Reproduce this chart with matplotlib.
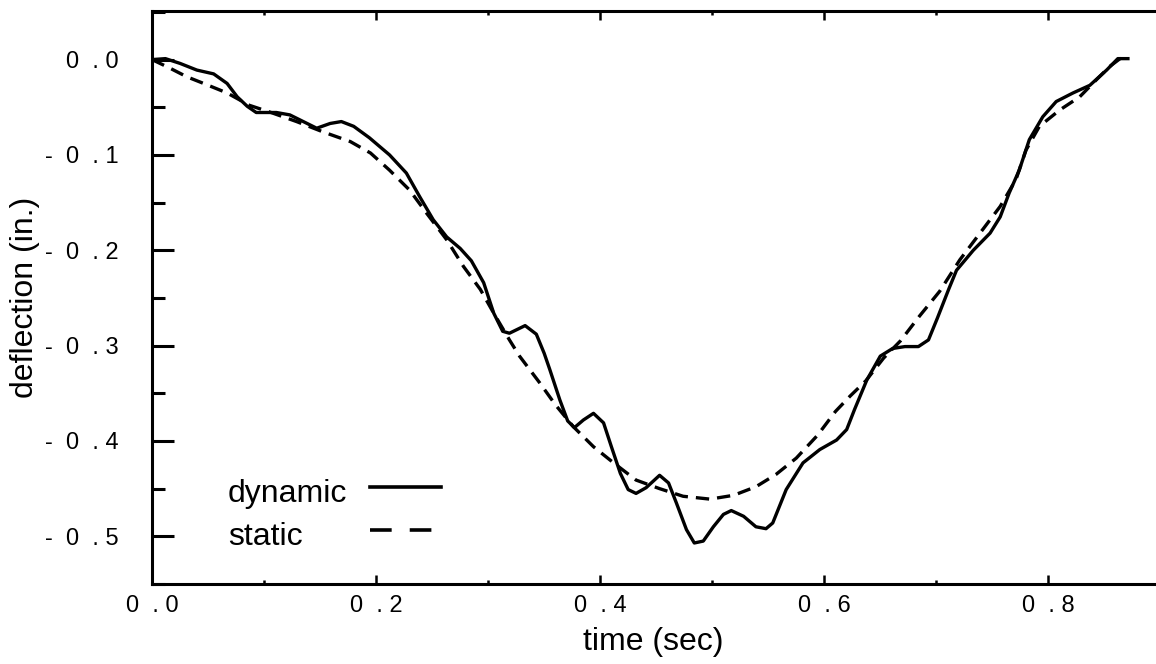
import matplotlib.pyplot as plt
from matplotlib.ticker import MultipleLocator

# dynamic response (time in s, deflection in in.)
dyn_t = [0.000, 0.012, 0.025, 0.040, 0.055, 0.067, 0.076, 0.085, 0.093, 0.111,
         0.123, 0.135, 0.147, 0.159, 0.169, 0.180, 0.194, 0.212, 0.227, 0.239,
         0.251, 0.263, 0.275, 0.285, 0.296, 0.305, 0.313, 0.319, 0.333, 0.343,
         0.350, 0.355, 0.364, 0.371, 0.377, 0.385, 0.394, 0.403, 0.410, 0.418,
         0.425, 0.432, 0.441, 0.453, 0.461, 0.468, 0.477, 0.484, 0.492, 0.501,
         0.510, 0.517, 0.528, 0.539, 0.548, 0.554, 0.566, 0.581, 0.596, 0.611,
         0.620, 0.627, 0.638, 0.650, 0.661, 0.672, 0.684, 0.693, 0.701, 0.711,
         0.718, 0.733, 0.748, 0.757, 0.765, 0.774, 0.783, 0.795, 0.807, 0.822,
         0.837, 0.852, 0.862, 0.871]
dyn_d = [0.000, 0.001, -0.004, -0.011, -0.015, -0.025, -0.039, -0.049, -0.0555, -0.0555,
         -0.058, -0.065, -0.072, -0.067, -0.065, -0.070, -0.082, -0.100, -0.119, -0.144,
         -0.168, -0.186, -0.198, -0.211, -0.234, -0.266, -0.285, -0.287, -0.279, -0.288,
         -0.308, -0.325, -0.357, -0.379, -0.386, -0.378, -0.371, -0.381, -0.406, -0.434,
         -0.451, -0.455, -0.449, -0.436, -0.444, -0.465, -0.493, -0.507, -0.505, -0.490,
         -0.477, -0.473, -0.479, -0.490, -0.492, -0.486, -0.451, -0.423, -0.409, -0.399,
         -0.388, -0.367, -0.336, -0.311, -0.303, -0.301, -0.301, -0.294, -0.271, -0.241,
         -0.221, -0.200, -0.182, -0.165, -0.140, -0.116, -0.084, -0.060, -0.044, -0.035,
         -0.027, -0.011, 0.001, 0.001]

# static response
sta_t = [0.000, 0.016, 0.031, 0.046, 0.067, 0.087, 0.105, 0.129, 0.153, 0.177,
         0.195, 0.212, 0.230, 0.245, 0.263, 0.278, 0.293, 0.305, 0.319, 0.328,
         0.346, 0.360, 0.376, 0.394, 0.412, 0.432, 0.453, 0.474, 0.498, 0.519,
         0.539, 0.557, 0.575, 0.594, 0.610, 0.623, 0.637, 0.653, 0.668, 0.685,
         0.703, 0.721, 0.739, 0.757, 0.771, 0.780, 0.792, 0.810, 0.828, 0.843,
         0.855, 0.864, 0.870]
sta_d = [0.000, -0.009, -0.018, -0.025, -0.035, -0.048, -0.055, -0.065, -0.076, -0.086,
         -0.098, -0.116, -0.137, -0.161, -0.189, -0.217, -0.241, -0.266, -0.294, -0.311,
         -0.339, -0.362, -0.385, -0.406, -0.423, -0.441, -0.450, -0.458, -0.461, -0.457,
         -0.448, -0.435, -0.418, -0.394, -0.369, -0.353, -0.337, -0.313, -0.295, -0.269,
         -0.243, -0.210, -0.182, -0.154, -0.126, -0.095, -0.070, -0.053, -0.039, -0.021,
         -0.007, 0.001, 0.001]

x_ticks = [0.0, 0.2, 0.4, 0.6, 0.8]
x_labels = ["0  . 0", "0  . 2", "0  . 4", "0  . 6", "0  . 8"]
y_ticks = [0.0, -0.1, -0.2, -0.3, -0.4, -0.5]
y_labels = ["0  . 0", "-  0  . 1", "-  0  . 2", "-  0  . 3", "-  0  . 4", "-  0  . 5"]

plt.rcParams['font.family'] = ['Liberation Sans', 'DejaVu Sans']

fig = plt.figure(figsize=(11.56, 6.64), dpi=100)
ax = fig.add_axes([0.1315, 0.1205, 0.8665, 0.863])

ax.plot(dyn_t, dyn_d, color='black', lw=2.4, solid_joinstyle='round')
ax.plot(sta_t, sta_d, color='black', lw=2.4, dashes=(4, 2.4))

ax.set_xlim(0, 0.894)
ax.set_ylim(-0.55, 0.051)

ax.set_xticks(x_ticks)
ax.set_xticklabels(x_labels)
ax.set_yticks(y_ticks)
ax.set_yticklabels(y_labels)
ax.xaxis.set_minor_locator(MultipleLocator(0.1))
ax.yaxis.set_minor_locator(MultipleLocator(0.05))

ax.tick_params(axis='x', which='major', direction='in', length=6.5, width=1.8,
               top=True, labelsize=17, pad=8)
ax.tick_params(axis='x', which='minor', direction='in', length=3, width=1.8, top=True)
ax.tick_params(axis='y', which='major', direction='in', length=16, width=2.2,
               labelsize=17, pad=24)
ax.tick_params(axis='y', which='minor', direction='in', length=9.5, width=2.2)

for side in ['left', 'bottom', 'top']:
    ax.spines[side].set_linewidth(2.2)
ax.spines['right'].set_visible(False)

ax.set_xlabel('time (sec)', fontsize=23, labelpad=7)
ax.set_ylabel('deflection (in.)', fontsize=23)
ax.yaxis.set_label_coords(-0.112, 0.5)

# legend: labels on the left, line samples on the right
ax.text(0.0758, 0.157, 'dynamic', transform=ax.transAxes, fontsize=23,
        ha='left', va='center')
ax.text(0.0758, 0.082, 'static', transform=ax.transAxes, fontsize=23,
        ha='left', va='center')
ax.plot([0.2176, 0.289], [0.169, 0.169], transform=ax.transAxes,
        color='black', lw=2.6)
ax.plot([0.2176, 0.289], [0.094, 0.094], transform=ax.transAxes,
        color='black', lw=2.6, dashes=(6, 5))

fig.savefig('out.png', dpi=100)
